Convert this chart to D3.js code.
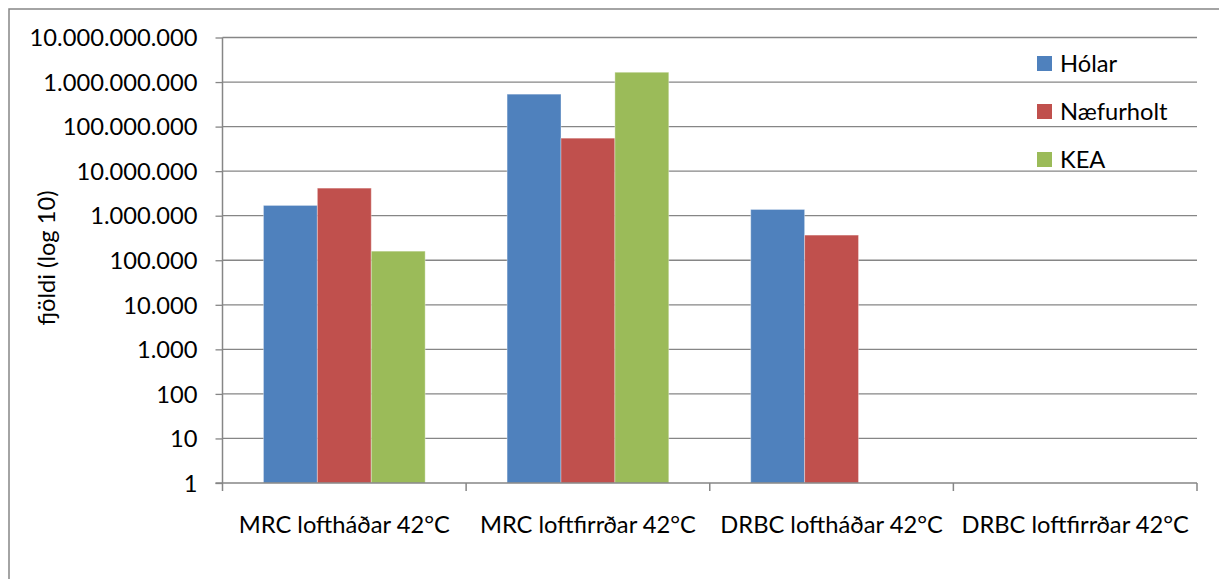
<!DOCTYPE html>
<html><head><meta charset="utf-8">
<script src="https://cdn.jsdelivr.net/npm/d3@7"></script>
<style>body{margin:0;background:#fff}svg{display:block}text{font-family:Lato,"Open Sans",sans-serif;fill:#000}</style>
</head><body><svg id="c" width="1219" height="579"></svg>
<script>
const categories = ["MRC loftháðar 42°C","MRC loftfirrðar 42°C","DRBC loftháðar 42°C","DRBC loftfirrðar 42°C"];
const seriesNames = ["Hólar","Næfurholt","KEA"];
const holar = [1.70e6, 5.35e8, 1.38e6, null];
const naefurholt = [4.16e6, 5.5e7, 3.67e5, null];
const kea = [1.60e5, 1.66e9, null, null];
const colors = ["#4F81BD","#C0504D","#9BBB59"];
const tickValues = [1,10,100,1e3,1e4,1e5,1e6,1e7,1e8,1e9,1e10];
const tickLabels = ["1","10","100","1.000","10.000","100.000","1.000.000","10.000.000","100.000.000","1.000.000.000","10.000.000.000"];
const yTitle = "fjöldi (log 10)";

const series = [holar, naefurholt, kea];
const svg = d3.select("#c");
const L = 222.5, R = 1197, T = 37.5, B = 483;
const grid = "#868686";
const FS = 23.7;

// outer border
svg.append("path").attr("d","M9,579.5V9H1219.5").attr("fill","none").attr("stroke",grid).attr("stroke-width",1.5);

const y = d3.scaleLog().domain([1,1e10]).range([B,T]);
const x = d3.scaleBand().domain(categories).range([L,R]).paddingInner(0).paddingOuter(0);
const x1 = d3.scaleBand().domain(seriesNames).range([0,x.bandwidth()]).paddingInner(0).paddingOuter(0.76);

// gridlines
svg.append("g").selectAll("line").data(tickValues.slice(1)).join("line")
  .attr("x1",L).attr("x2",R).attr("y1",d=>y(d)).attr("y2",d=>y(d))
  .attr("stroke",grid).attr("stroke-width",1.3);

// y axis
const yAxis = d3.axisLeft(y).tickValues(tickValues).tickFormat((d,i)=>tickLabels[i]).tickSize(7).tickPadding(18);
const gy = svg.append("g").attr("transform",`translate(${L},0)`).call(yAxis);
gy.select(".domain").remove();
gy.selectAll(".tick line").attr("stroke",grid).attr("stroke-width",1.3);
gy.selectAll(".tick text").attr("font-size",FS).attr("font-family","Lato").attr("fill","#000").attr("dy","0.35em");

// bars
categories.forEach((c,ci)=>{
  series.forEach((s,si)=>{
    const v = s[ci];
    if(v==null) return;
    svg.append("rect")
      .attr("x", x(c)+x1(seriesNames[si]))
      .attr("y", y(v))
      .attr("width", x1.bandwidth())
      .attr("height", B - y(v))
      .attr("fill", colors[si])
      .attr("stroke","rgba(255,255,255,0.35)").attr("stroke-width",1);
  });
});

// axis lines
svg.append("line").attr("x1",L).attr("x2",L).attr("y1",T).attr("y2",B).attr("stroke",grid).attr("stroke-width",1.5);
svg.append("line").attr("x1",L-7).attr("x2",R).attr("y1",B).attr("y2",B).attr("stroke",grid).attr("stroke-width",1.5);
// category boundary ticks
const bounds = categories.map(c=>x(c)).concat([R]);
svg.append("g").selectAll("line").data(bounds).join("line")
  .attr("x1",d=>d).attr("x2",d=>d).attr("y1",B).attr("y2",B+8).attr("stroke",grid).attr("stroke-width",1.5);
// category labels
svg.append("g").selectAll("text").data(categories).join("text")
  .attr("x",d=>x(d)+x.bandwidth()/2).attr("y",533)
  .attr("text-anchor","middle").attr("font-size",FS).text(d=>d);

// y title
svg.append("text").attr("transform","translate(55,258) rotate(-90)")
  .attr("text-anchor","middle").attr("font-size",FS).text(yTitle);

// legend
const lg = svg.append("g").selectAll("g").data(seriesNames).join("g")
  .attr("transform",(d,i)=>`translate(1037,${56+i*48})`);
lg.append("rect").attr("width",15).attr("height",15).attr("fill",(d,i)=>colors[i]);
lg.append("text").attr("x",23).attr("y",16).attr("font-size",FS).text(d=>d);
</script></body></html>
